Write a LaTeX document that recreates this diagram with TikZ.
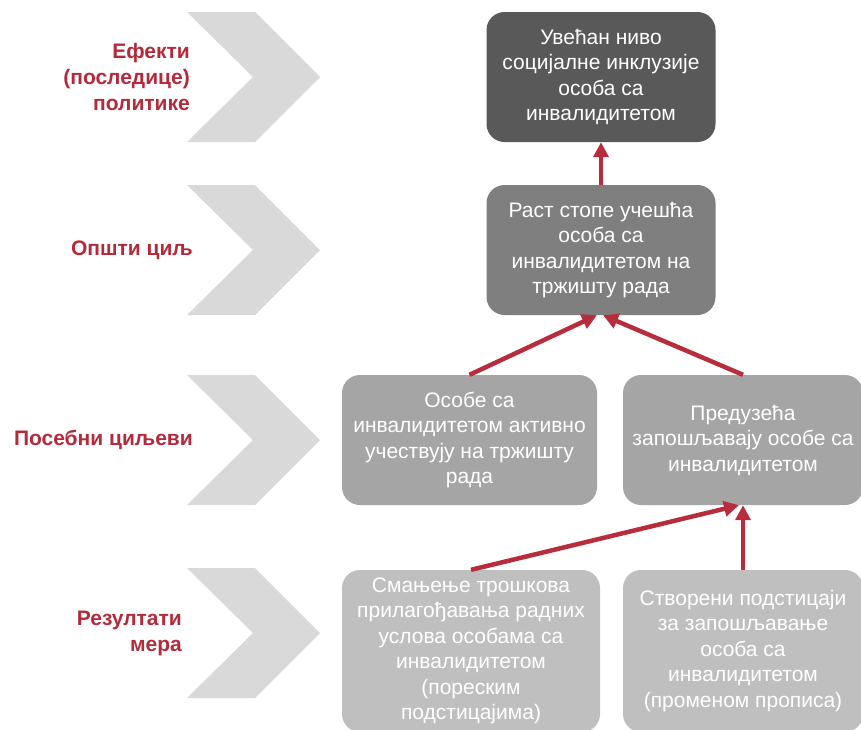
\documentclass[tikz,border=0pt]{standalone}
\usepackage{fontspec}
\setmainfont{Liberation Sans}
\usetikzlibrary{arrows.meta}

\begin{document}
\begin{tikzpicture}[x=1pt,y=-1pt,
    box/.style={rounded corners=18pt,minimum width=229pt,minimum height=130pt,
      inner xsep=2pt,align=center,text=white,font=\fontsize{21}{25.5}\selectfont},
    level/.style={inner sep=0pt,anchor=east,align=right,text=caption,
      font=\fontsize{21}{26}\selectfont\bfseries},
    link/.style={draw=arrowred,line width=4.5pt,-{Triangle[length=15pt,width=15pt]}}]
  \definecolor{caption}{RGB}{181,42,58}
  \definecolor{arrowred}{RGB}{184,45,60}
  \definecolor{effect}{HTML}{595959}
  \definecolor{goal}{HTML}{7F7F7F}
  \definecolor{aim}{HTML}{A5A5A5}
  \definecolor{result}{HTML}{BFBFBF}
  \colorlet{chevron}{black!15}

  \useasboundingbox (0,0) rectangle (861,729);
  \clip (0,0) rectangle (861,729);

  \foreach \y in {77,250,440,633}
    \fill [chevron] (187,\y-65) -- (255,\y-65) -- (320,\y) -- (255,\y+65)
      -- (187,\y+65) -- (253,\y) -- cycle;

  \node [level] (effl) at (190,77) {Ефекти\\(последице)\\политике};
  \node [level] (genl) at (193,250) {Општи циљ};
  \node [level] (spl)  at (193,440) {Посебни циљеви};
  \node [level] (resl) at (182,633) {Резултати\\мера};

  \node [box,fill=effect] (eff) at (601,77)
    {Увећан ниво\\социјалне инклузије\\особа са\\инвалидитетом};
  \node [box,fill=goal] (gen) at (601,250)
    {Раст стопе учешћа\\особа са\\инвалидитетом на\\тржишту рада};
  \node [box,fill=aim,minimum width=255pt] (sp1) at (469.5,440)
    {Особе са\\инвалидитетом активно\\учествују на тржишту\\рада};
  \node [box,fill=aim,minimum width=240pt] (sp2) at (743,440)
    {Предузећа\\запошљавају особе са\\инвалидитетом};
  \node [box,fill=result,minimum width=258pt,minimum height=162pt] (res1) at (471,651)
    {Смањење трошкова\\прилагођавања радних\\услова особама са\\инвалидитетом\\(пореским\\подстицајима)};
  \node [box,fill=result,minimum width=240pt,minimum height=162pt] (res2) at (743,651)
    {Створени подстицаји\\за запошљавање\\особа са\\инвалидитетом\\(променом прописа)};

  \draw [link] (gen) -- (eff);
  \draw [link] (sp1.north) -- ([xshift=-4pt]gen.south);
  \draw [link] (sp2.north) -- ([xshift=2pt]gen.south);
  \draw [link] (res1.north) -- ([xshift=-4pt]sp2.south);
  \draw [link] (res2) -- (sp2);
\end{tikzpicture}
\end{document}
